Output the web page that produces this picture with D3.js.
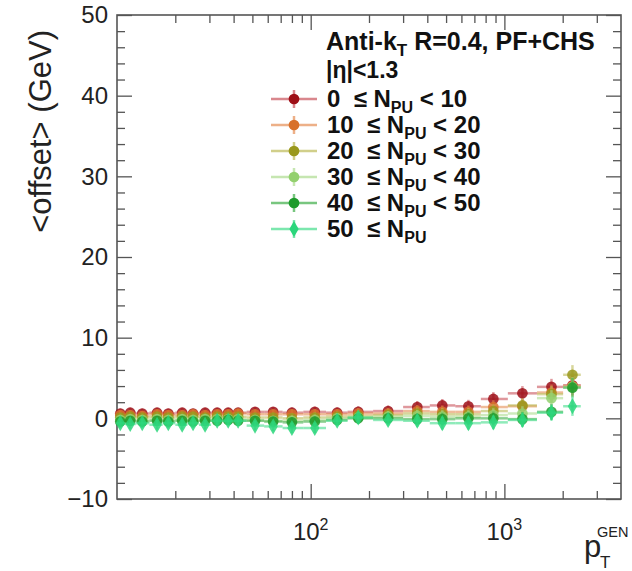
<!DOCTYPE html>
<html>
<head>
<meta charset="utf-8">
<script src="https://cdn.jsdelivr.net/npm/d3@7"></script>
<style>
  body { margin: 0; background: #fff; }
  text { font-family: "Liberation Sans", Arial, Helvetica, sans-serif; }
</style>
</head>
<body>
<div id="chart"></div>
<script>
// pT bin centres and bin edges (GeV)
const ptCenters = [10.4, 11.7, 13.5, 16.1, 18.4, 21.7, 24.7, 28.5, 32.9, 37.5, 42.2, 51.6, 64, 80, 105, 137, 176, 251, 355, 478, 652, 877, 1239, 1750, 2246];
const ptEdges   = [10, 11, 12.5, 14.7, 17.2, 20, 23.1, 26.5, 30.6, 35.1, 39.8, 46.7, 57.5, 71.6, 91.6, 120, 155, 210, 300, 412, 558, 756, 1042, 1473, 2010, 2480];

// <offset> per NPU bin
const offsetNpu0  = [0.6, 0.7, 0.6, 0.7, 0.6, 0.7, 0.6, 0.7, 0.7, 0.7, 0.7, 0.8, 0.8, 0.7, 0.8, 0.7, 0.8, 0.9, 1.4, 1.6, 1.5, 2.4, 3.1, 3.9, 4.1];
const offsetNpu10 = [0.4, 0.4, 0.3, 0.5, 0.4, 0.4, 0.5, 0.4, 0.5, 0.5, 0.6, 0.5, 0.5, 0.5, 0.5, 0.5, 0.6, 0.6, 0.9, 0.8, 0.8, 1.4, 1.5, 3.2, 4.0];
const offsetNpu20 = [0.1, 0.2, 0.1, 0.2, 0.1, 0.2, 0.2, 0.1, 0.2, 0.2, 0.2, 0.1, 0.1, 0.0, 0.1, 0.2, 0.3, 0.4, 0.6, 0.5, 0.5, 0.9, 1.6, 3.0, 5.4];
const offsetNpu30 = [-0.2, -0.1, -0.2, -0.1, -0.2, -0.1, -0.2, -0.1, -0.1, -0.1, -0.1, -0.2, -0.3, -0.3, -0.2, 0.0, 0.1, 0.2, 0.3, 0.2, 0.2, 0.4, 0.6, 2.5, 3.9];
const offsetNpu40 = [-0.4, -0.3, -0.4, -0.3, -0.4, -0.3, -0.4, -0.3, -0.3, -0.2, -0.3, -0.3, -0.4, -0.5, -0.4, -0.2, 0.0, 0.0, -0.1, -0.1, 0.0, 0.0, -0.1, 0.8, 3.8];
const offsetNpu50 = [-0.6, -0.7, -0.6, -0.8, -0.6, -0.8, -0.6, -0.8, -0.3, -0.3, -0.3, -0.9, -1.0, -1.2, -1.2, -0.3, 0.1, -0.2, -0.3, -0.6, -0.6, -0.5, -0.2, 0.7, 1.5];
const offsetErr   = [0.1, 0.1, 0.1, 0.1, 0.1, 0.1, 0.1, 0.1, 0.1, 0.1, 0.1, 0.1, 0.1, 0.15, 0.15, 0.15, 0.2, 0.2, 0.25, 0.3, 0.3, 0.35, 0.4, 0.5, 0.7];

const npuLow  = [0, 10, 20, 30, 40, 50];
const npuHigh = [10, 20, 30, 40, 50, null];
const markerColors = ["#9e0f17", "#d8712b", "#9a981c", "#93d06e", "#1e9a2b", "#2bd67b"];
const lineColors   = ["#c9545c", "#e58f55", "#bdbb58", "#aedc90", "#3fae48", "#45dd8c"];

const yTickValues = [-10, 0, 10, 20, 30, 40, 50];
const xMajorTicks = [100, 1000];
const xTickExponents = ["2", "3"];
const xMinorTicks = [20, 30, 40, 50, 60, 70, 80, 90, 200, 300, 400, 500, 600, 700, 800, 900, 2000, 3000];

const seriesValues = [offsetNpu0, offsetNpu10, offsetNpu20, offsetNpu30, offsetNpu40, offsetNpu50];

const margin = { top: 15, right: 11, bottom: 72, left: 117 };
const width = 632 - margin.left - margin.right;
const height = 571 - margin.top - margin.bottom;

const svg = d3.select("#chart").append("svg")
    .attr("width", 632)
    .attr("height", 571);

const g = svg.append("g")
    .attr("transform", "translate(" + margin.left + "," + margin.top + ")");

const x = d3.scaleLog().domain([10, 4000]).range([0, width]);
const y = d3.scaleLinear().domain([-10, 50]).range([height, 0]);

const frameColor = "#555";

// minor y ticks every 2
let yMinor = d3.range(-10, 50.01, 2).filter(v => v % 10 !== 0);

// axes: ticks point into the frame
function styleAxis(sel) {
    sel.select(".domain").remove();
    sel.selectAll("line").attr("stroke", frameColor).attr("stroke-width", 1.3);
}

g.append("g").call(d3.axisLeft(y).tickValues(yTickValues).tickSizeInner(-15).tickSizeOuter(0).tickPadding(9))
    .call(styleAxis)
    .selectAll("text").attr("font-size", 24).attr("fill", "#222").attr("font-family", "Liberation Sans, Arial, sans-serif");
g.append("g").call(d3.axisLeft(y).tickValues(yMinor).tickSizeInner(-8).tickSizeOuter(0).tickFormat(""))
    .call(styleAxis);
g.append("g").attr("transform", "translate(" + width + ",0)")
    .call(d3.axisRight(y).tickValues(yTickValues).tickSizeInner(-15).tickSizeOuter(0).tickFormat(""))
    .call(styleAxis);
g.append("g").attr("transform", "translate(" + width + ",0)")
    .call(d3.axisRight(y).tickValues(yMinor).tickSizeInner(-8).tickSizeOuter(0).tickFormat(""))
    .call(styleAxis);

g.append("g").attr("transform", "translate(0," + height + ")")
    .call(d3.axisBottom(x).tickValues(xMajorTicks).tickSizeInner(-15).tickSizeOuter(0).tickFormat(""))
    .call(styleAxis);
g.append("g").attr("transform", "translate(0," + height + ")")
    .call(d3.axisBottom(x).tickValues(xMinorTicks).tickSizeInner(-8).tickSizeOuter(0).tickFormat(""))
    .call(styleAxis);
g.append("g")
    .call(d3.axisTop(x).tickValues(xMajorTicks).tickSizeInner(-15).tickSizeOuter(0).tickFormat(""))
    .call(styleAxis);
g.append("g")
    .call(d3.axisTop(x).tickValues(xMinorTicks).tickSizeInner(-8).tickSizeOuter(0).tickFormat(""))
    .call(styleAxis);

// x tick labels 10^n
xMajorTicks.forEach((v, i) => {
    let t = g.append("text")
        .attr("x", x(v))
        .attr("y", height + 41)
        .attr("text-anchor", "middle")
        .attr("font-size", 24)
        .attr("fill", "#222");
    t.append("tspan").text("10");
    t.append("tspan").attr("dy", -10).attr("font-size", 16).text(xTickExponents[i]);
});

// frame
g.append("rect")
    .attr("width", width)
    .attr("height", height)
    .attr("fill", "none")
    .attr("stroke", frameColor)
    .attr("stroke-width", 1.6);

// axis titles
svg.append("text")
    .attr("transform", "translate(51,30) rotate(-90)")
    .attr("text-anchor", "end")
    .attr("font-size", 31)
    .attr("fill", "#222")
    .text("<offset> (GeV)");

svg.append("text").attr("x", 584).attr("y", 557).attr("font-size", 31).attr("fill", "#222").text("p");
svg.append("text").attr("x", 597).attr("y", 537).attr("font-size", 14.5).attr("fill", "#222").text("GEN");
svg.append("text").attr("x", 600).attr("y", 568).attr("font-size", 17).attr("fill", "#222").text("T");

// data
const plot = g.append("g");
seriesValues.forEach((vals, s) => {
    let pts = vals.map((v, i) => ({
        x: ptCenters[i], lo: ptEdges[i], hi: ptEdges[i + 1], y: v, e: offsetErr[i]
    }));
    let sg = plot.append("g");
    sg.selectAll(".hbar").data(pts).join("line")
        .attr("class", "hbar")
        .attr("x1", d => x(d.lo)).attr("x2", d => x(d.hi))
        .attr("y1", d => y(d.y)).attr("y2", d => y(d.y))
        .attr("stroke", lineColors[s]).attr("stroke-width", 2.5).attr("stroke-opacity", 0.6);
    sg.selectAll(".vbar").data(pts).join("line")
        .attr("class", "vbar")
        .attr("x1", d => x(d.x)).attr("x2", d => x(d.x))
        .attr("y1", d => y(d.y - d.e) + 4).attr("y2", d => y(d.y + d.e) - 4)
        .attr("stroke", lineColors[s]).attr("stroke-width", 2.5).attr("stroke-opacity", 0.6);
    let sym = s === 5 ? d3.symbolDiamond : d3.symbolCircle;
    let size = s === 5 ? 75 : 90;
    sg.selectAll(".mk").data(pts).join("path")
        .attr("class", "mk")
        .attr("transform", d => "translate(" + x(d.x) + "," + y(d.y) + ")")
        .attr("d", d3.symbol().type(sym).size(size))
        .attr("fill", markerColors[s])
        .attr("fill-opacity", 0.85);
});

// legend
const legend = svg.append("g");
let head = legend.append("text").attr("x", 326).attr("y", 50).attr("font-size", 25).attr("font-weight", "bold").attr("fill", "#111");
head.append("tspan").text("Anti-k");
head.append("tspan").attr("dy", 6).attr("font-size", 17).text("T");
head.append("tspan").attr("dy", -6).text(" R=0.4, PF+CHS");
legend.append("text").attr("x", 326).attr("y", 78).attr("font-size", 23).attr("font-weight", "bold").attr("fill", "#111").text("|η|<1.3");

const rowY = d3.scaleLinear().domain([0, 5]).range([99, 229]);
npuLow.forEach((lo, i) => {
    let cy = rowY(i);
    legend.append("line").attr("x1", 271).attr("x2", 317).attr("y1", cy).attr("y2", cy)
        .attr("stroke", lineColors[i]).attr("stroke-width", 2.5).attr("stroke-opacity", 0.7);
    legend.append("line").attr("x1", 294).attr("x2", 294).attr("y1", cy - 9).attr("y2", cy + 9)
        .attr("stroke", lineColors[i]).attr("stroke-width", 2.5).attr("stroke-opacity", 0.7);
    legend.append("path")
        .attr("transform", "translate(294," + cy + ")")
        .attr("d", d3.symbol().type(i === 5 ? d3.symbolDiamond : d3.symbolCircle).size(i === 5 ? 75 : 90))
        .attr("fill", markerColors[i]);
    let t = legend.append("text").attr("x", 327).attr("y", cy + 8).attr("font-size", 24)
        .attr("font-weight", "bold").attr("fill", "#111").attr("xml:space", "preserve");
    t.append("tspan").text(lo + "  \u2264 N");
    t.append("tspan").attr("dy", 6).attr("font-size", 16).text("PU");
    if (npuHigh[i] !== null) {
        t.append("tspan").attr("dy", -6).text(" < " + npuHigh[i]);
    }
});
</script>
</body>
</html>
